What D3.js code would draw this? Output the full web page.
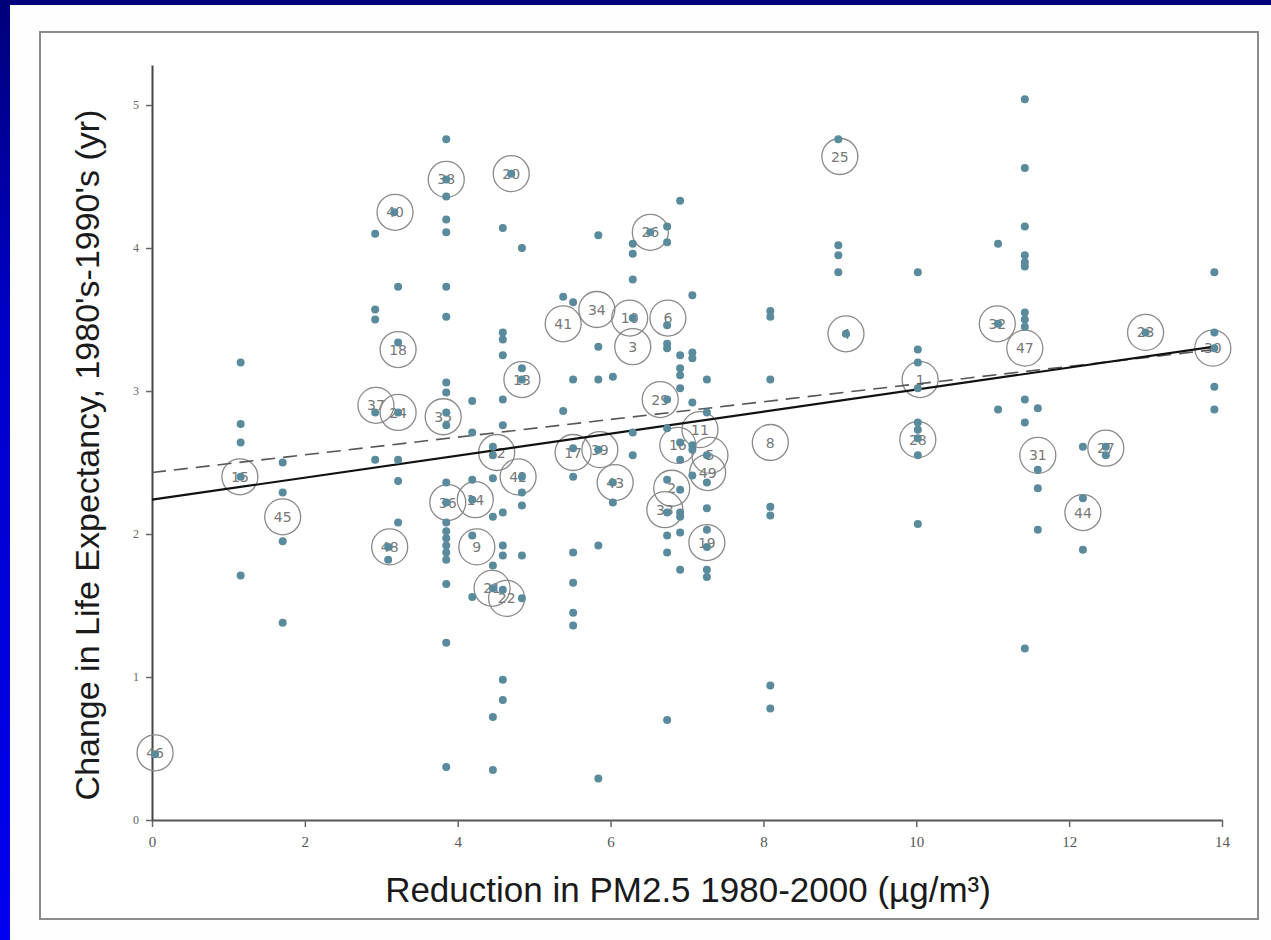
<!DOCTYPE html>
<html>
<head>
<meta charset="utf-8">
<script src="https://cdn.jsdelivr.net/npm/d3@7"></script>
<style>
  html, body { margin: 0; padding: 0; background: #fff; }
  svg { display: block; }
</style>
</head>
<body>
<script>
// reduction in PM2.5 (x) and change in life expectancy (y), one entry per county point
var pmReduction = [
  0.04,
  1.16, 1.16, 1.16, 1.16, 1.16,
  1.71, 1.71, 1.71, 1.71,
  2.92, 2.92, 2.92, 2.92, 2.92,
  3.17, 3.09, 3.09,
  3.22, 3.22, 3.22, 3.22, 3.22, 3.22,
  3.85, 3.85, 3.85, 3.85, 3.85, 3.85, 3.85, 3.85, 3.85, 3.85, 3.85, 3.85, 3.85, 3.85, 3.85, 3.85, 3.85, 3.85, 3.85, 3.85, 3.85, 3.85,
  4.19, 4.19, 4.19, 4.19, 4.19, 4.19,
  4.46, 4.46, 4.46, 4.46, 4.46, 4.46, 4.46, 4.46,
  4.59, 4.59, 4.59, 4.59, 4.59, 4.59, 4.59, 4.59, 4.59, 4.59, 4.59, 4.59,
  4.70,
  4.84, 4.84, 4.84, 4.84, 4.84, 4.84, 4.84, 4.84,
  5.38, 5.38,
  5.51, 5.51, 5.51, 5.51, 5.51, 5.51, 5.51, 5.51,
  5.84, 5.84, 5.84, 5.84, 5.84, 5.84,
  6.03, 6.03, 6.03,
  6.29, 6.29, 6.29, 6.29, 6.29, 6.29,
  6.52,
  6.74, 6.74, 6.74, 6.74, 6.74, 6.74, 6.74, 6.74, 6.74, 6.74, 6.74, 6.74,
  6.91, 6.91, 6.91, 6.91, 6.91, 6.91, 6.91, 6.91, 6.91, 6.91, 6.91, 6.91,
  7.07, 7.07, 7.07, 7.07, 7.07, 7.07, 7.07,
  7.26, 7.26, 7.26, 7.26, 7.26, 7.26, 7.26, 7.26, 7.26,
  8.09, 8.09, 8.09, 8.09, 8.09, 8.09, 8.09,
  8.98, 8.98, 8.98, 8.98,
  9.08,
  10.02, 10.02, 10.02, 10.02, 10.02, 10.02, 10.02, 10.02, 10.02,
  11.07, 11.07, 11.07,
  11.42, 11.42, 11.42, 11.42, 11.42, 11.42, 11.42, 11.42, 11.42, 11.42, 11.42, 11.42,
  11.59, 11.59, 11.59, 11.59,
  12.18, 12.18, 12.18,
  12.48, 12.48,
  13.0,
  13.9, 13.9, 13.9, 13.9, 13.9
];
var lifeChange = [
  0.46,
  3.20, 2.77, 2.64, 2.40, 1.71,
  2.50, 2.29, 1.95, 1.38,
  4.10, 3.57, 3.50, 2.85, 2.52,
  4.25, 1.91, 1.82,
  3.73, 3.34, 2.85, 2.52, 2.37, 2.08,
  4.76, 4.48, 4.36, 4.20, 4.11, 3.73, 3.52, 3.06, 2.99, 2.85, 2.76, 2.36, 2.22, 2.08, 2.02, 1.97, 1.92, 1.87, 1.82, 1.65, 1.24, 0.37,
  2.93, 2.71, 2.38, 2.24, 1.99, 1.56,
  2.61, 2.55, 2.39, 2.12, 1.78, 1.62, 0.72, 0.35,
  4.14, 3.41, 3.36, 3.25, 2.94, 2.76, 2.15, 1.92, 1.85, 1.61, 0.98, 0.84,
  4.52,
  4.00, 3.16, 3.08, 2.40, 2.29, 2.20, 1.85, 1.55,
  3.66, 2.86,
  3.62, 3.08, 2.60, 2.40, 1.87, 1.66, 1.45, 1.36,
  4.09, 3.31, 3.08, 2.59, 1.92, 0.29,
  3.10, 2.36, 2.22,
  4.03, 3.96, 3.78, 3.51, 2.71, 2.55,
  4.11,
  4.15, 4.04, 3.46, 3.33, 3.30, 2.94, 2.74, 2.38, 2.15, 1.99, 1.87, 0.70,
  4.33, 3.25, 3.16, 3.11, 3.02, 2.64, 2.52, 2.31, 2.15, 2.12, 2.01, 1.75,
  3.67, 3.27, 3.23, 2.92, 2.62, 2.59, 2.41,
  3.08, 2.85, 2.55, 2.36, 2.18, 2.03, 1.91, 1.75, 1.70,
  3.56, 3.52, 3.08, 2.19, 2.13, 0.94, 0.78,
  4.76, 4.02, 3.95, 3.83,
  3.40,
  3.83, 3.29, 3.20, 3.02, 2.78, 2.73, 2.67, 2.55, 2.07,
  4.03, 3.47, 2.87,
  5.04, 4.56, 4.15, 3.95, 3.90, 3.87, 3.55, 3.50, 3.45, 2.94, 2.78, 1.20,
  2.88, 2.45, 2.32, 2.03,
  2.61, 2.25, 1.89,
  2.61, 2.55,
  3.41,
  3.83, 3.41, 3.30, 3.03, 2.87
];

// numbered rings (city ids)
var ringX = [0.04, 1.15, 1.71, 2.93, 3.22, 3.11, 3.18, 3.22, 3.85, 3.81, 3.87, 4.23, 4.25, 4.70, 4.45, 4.64,
  4.84, 4.79, 4.51, 5.38, 5.82, 6.25, 6.29, 6.75, 6.52, 6.65, 5.51, 5.86, 6.06, 8.09, 6.88, 7.17,
  7.30, 7.27, 6.80, 6.71, 7.26, 9.00, 9.08, 10.05, 10.02, 11.06, 11.42, 11.59, 12.48, 12.18, 13.0, 13.88];
var ringY = [0.47, 2.40, 2.12, 2.90, 2.85, 1.91, 4.25, 3.29, 4.48, 2.82, 2.22, 2.24, 1.91, 4.52, 1.62, 1.55,
  3.08, 2.40, 2.57, 3.47, 3.57, 3.51, 3.31, 3.51, 4.11, 2.94, 2.57, 2.59, 2.36, 2.64, 2.62, 2.73,
  2.55, 2.43, 2.32, 2.17, 1.94, 4.64, 3.40, 3.08, 2.66, 3.47, 3.30, 2.55, 2.60, 2.15, 3.41, 3.30];
var ringLabel = ["46", "15", "45", "37", "24", "48", "40", "18", "38", "35", "36", "14", "9", "20", "21", "22",
  "13", "42", "12", "41", "34", "10", "3", "6", "26", "29", "17", "39", "43", "8", "16", "11",
  "5", "49", "2", "33", "19", "25", "4", "1", "28", "32", "47", "31", "27", "44", "23", "30"];

// regression lines: solid and dashed, end points
var fitSolid = [[0, 2.24], [13.9, 3.31]];
var fitDashed = [[0, 2.43], [13.9, 3.29]];

var xTicks = [0, 2, 4, 6, 8, 10, 12, 14];
var yTicks = [0, 1, 2, 3, 4, 5];

var width = 1271, height = 940;

var svg = d3.select("body").append("svg")
  .attr("width", width)
  .attr("height", height);

// slide background: blue strip at left and top
var grad = svg.append("defs").append("linearGradient")
  .attr("id", "blueGrad")
  .attr("x1", 0).attr("y1", 0).attr("x2", 0).attr("y2", 1);
grad.append("stop").attr("offset", "0%").attr("stop-color", "#00007a");
grad.append("stop").attr("offset", "35%").attr("stop-color", "#0000c8");
grad.append("stop").attr("offset", "100%").attr("stop-color", "#0000f0");

svg.append("rect").attr("x", 0).attr("y", 0).attr("width", width).attr("height", height).attr("fill", "#fefefe");
svg.append("rect").attr("x", 0).attr("y", 0).attr("width", 10).attr("height", height).attr("fill", "url(#blueGrad)");
svg.append("rect").attr("x", 0).attr("y", 0).attr("width", width).attr("height", 5).attr("fill", "#00007a");

// picture frame
svg.append("rect")
  .attr("x", 40).attr("y", 32)
  .attr("width", 1218).attr("height", 887)
  .attr("fill", "#fff")
  .attr("stroke", "#8c8c8c")
  .attr("stroke-width", 2);

var x = d3.scaleLinear().domain([0, 14]).range([152, 1222]);
var y = d3.scaleLinear().domain([0, 5.28]).range([820, 65]);

// axes
var xAxis = svg.append("g")
  .attr("transform", "translate(0,820)")
  .call(d3.axisBottom(x).tickValues(xTicks).tickFormat(d3.format("d"))
    .tickSize(7).tickSizeOuter(0).tickPadding(9));
xAxis.select(".domain").attr("stroke", "#555").attr("stroke-width", 2);
xAxis.selectAll(".tick line").attr("stroke", "#666").attr("stroke-width", 1.5);
xAxis.selectAll(".tick text")
  .attr("fill", "#555")
  .style("font-family", "'Liberation Serif', serif")
  .style("font-size", "15px");

var yAxis = svg.append("g")
  .attr("transform", "translate(152,0)")
  .call(d3.axisLeft(y).tickValues(yTicks).tickFormat(d3.format("d"))
    .tickSize(6).tickSizeOuter(0).tickPadding(7));
yAxis.select(".domain").attr("stroke", "#444").attr("stroke-width", 2);
yAxis.selectAll(".tick line").attr("stroke", "#666").attr("stroke-width", 1.5);
yAxis.selectAll(".tick text")
  .attr("fill", "#666")
  .style("font-family", "'Liberation Serif', serif")
  .style("font-size", "12px");

// axis titles
svg.append("text")
  .attr("x", 688).attr("y", 902)
  .attr("text-anchor", "middle")
  .style("font-family", "'Liberation Sans', Arial, sans-serif")
  .style("font-size", "35px")
  .attr("fill", "#1a1a1a")
  .text("Reduction in PM2.5 1980-2000 (µg/m³)");

svg.append("text")
  .attr("transform", "translate(99,455) rotate(-90)")
  .attr("text-anchor", "middle")
  .style("font-family", "'Liberation Sans', Arial, sans-serif")
  .style("font-size", "34px")
  .attr("fill", "#1a1a1a")
  .text("Change in Life Expectancy, 1980's-1990's (yr)");

// numbered rings
var rings = svg.append("g").selectAll("g")
  .data(ringLabel)
  .enter().append("g")
  .attr("transform", function (d, i) {
    return "translate(" + x(ringX[i]) + "," + y(ringY[i]) + ")";
  });
rings.append("circle")
  .attr("r", 18)
  .attr("fill", "none")
  .attr("stroke", "#8a8a8a")
  .attr("stroke-width", 1.3);
rings.append("text")
  .attr("text-anchor", "middle")
  .attr("dy", "0.36em")
  .style("font-family", "'DejaVu Sans', sans-serif")
  .style("font-size", "14px")
  .attr("fill", "#777")
  .text(function (d) { return d; });

// fit lines
var line = d3.line()
  .x(function (d) { return x(d[0]); })
  .y(function (d) { return y(d[1]); });

svg.append("path")
  .attr("d", line(fitDashed))
  .attr("fill", "none")
  .attr("stroke", "#555")
  .attr("stroke-width", 1.6)
  .attr("stroke-dasharray", "14,8");

svg.append("path")
  .attr("d", line(fitSolid))
  .attr("fill", "none")
  .attr("stroke", "#111")
  .attr("stroke-width", 2.2);

// points
svg.append("g").selectAll("circle")
  .data(pmReduction)
  .enter().append("circle")
  .attr("cx", function (d) { return x(d); })
  .attr("cy", function (d, i) { return y(lifeChange[i]); })
  .attr("r", 4)
  .attr("fill", "#5a8b9c");
</script>
</body>
</html>
